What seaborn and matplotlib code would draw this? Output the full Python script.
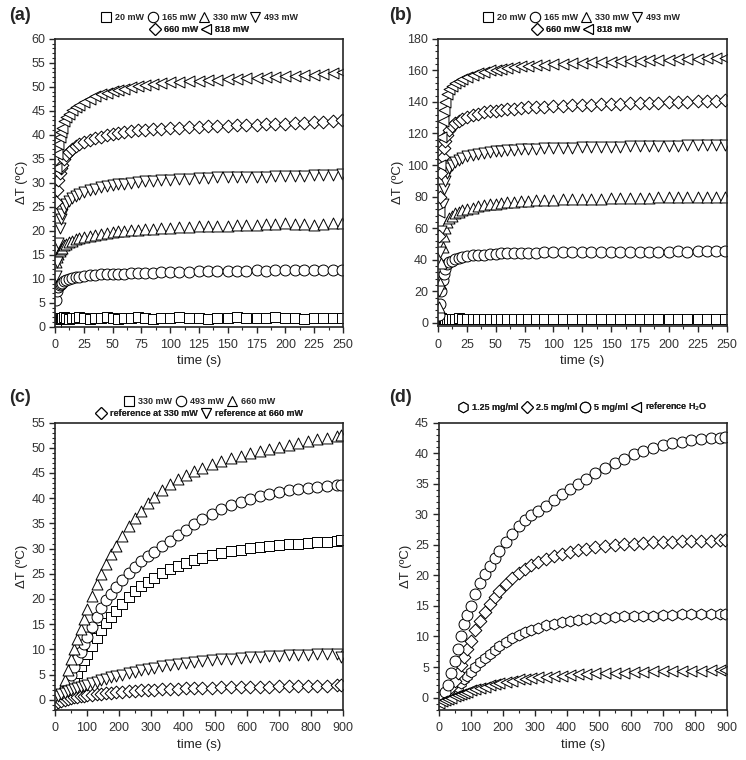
import numpy as np
import pandas as pd
import seaborn as sns
import matplotlib
matplotlib.use("Agg")
import matplotlib.pyplot as plt
from matplotlib.lines import Line2D
from matplotlib.ticker import MultipleLocator, AutoMinorLocator

# ---------------- data ----------------
# panels (a) and (b): 0-250 s
t_ab = [1, 2, 3, 4, 5, 6, 8, 10, 12, 15, 18, 21, 25, 30, 35, 40, 45, 50, 55, 60,
        66, 72, 78, 85, 92, 100, 108, 116, 125, 133, 141, 150, 158, 166, 175,
        183, 191, 200, 208, 216, 225, 233, 241, 249]

a_20 = [0.8, 1.6, 1.8, 1.9, 1.7, 1.8, 2.0, 1.8, 1.7, 1.9, 1.8, 2.0, 1.8, 1.7, 1.9,
        1.8, 2.0, 1.9, 1.7, 1.8, 1.9, 2.0, 1.8, 1.7, 1.9, 1.8, 2.0, 1.9, 1.8, 1.7,
        1.9, 1.8, 2.0, 1.9, 1.8, 1.9, 2.0, 1.8, 1.9, 1.7, 1.8, 1.9, 1.8, 1.9]
a_165 = [5.5, 7.5, 8.3, 8.8, 9.0, 9.2, 9.5, 9.7, 9.9, 10.1, 10.3, 10.4, 10.5, 10.7,
         10.8, 10.9, 11.0, 11.0, 11.1, 11.1, 11.2, 11.2, 11.3, 11.3, 11.4, 11.4,
         11.5, 11.5, 11.6, 11.6, 11.7, 11.6, 11.7, 11.7, 11.8, 11.7, 11.8, 11.9,
         11.8, 11.9, 11.8, 11.9, 11.8, 11.9]
a_330 = [13.5, 14.5, 15.2, 15.8, 16.2, 16.5, 17.0, 17.3, 17.6, 17.9, 18.2, 18.4,
         18.7, 19.0, 19.2, 19.4, 19.6, 19.8, 19.9, 20.0, 20.1, 20.2, 20.3, 20.4,
         20.5, 20.6, 20.7, 20.8, 20.9, 21.0, 21.1, 21.1, 21.2, 21.2, 21.3, 21.4,
         21.5, 21.6, 21.4, 21.5, 21.3, 21.5, 21.6, 21.7]
a_493 = [10.5, 13.5, 17.5, 20.5, 22.5, 23.5, 24.8, 25.6, 26.2, 26.8, 27.3, 27.7,
         28.1, 28.5, 28.8, 29.1, 29.3, 29.5, 29.7, 29.8, 30.0, 30.1, 30.3, 30.4,
         30.5, 30.6, 30.7, 30.8, 30.9, 31.0, 31.1, 31.1, 31.2, 31.2, 31.3, 31.3,
         31.4, 31.4, 31.5, 31.5, 31.6, 31.6, 31.7, 31.8]
a_660 = [26.0, 28.5, 30.5, 32.0, 33.0, 33.8, 35.0, 35.8, 36.4, 37.1, 37.6, 38.0,
         38.4, 38.9, 39.3, 39.6, 39.9, 40.1, 40.3, 40.5, 40.7, 40.9, 41.0, 41.2,
         41.3, 41.4, 41.5, 41.6, 41.7, 41.8, 41.9, 41.9, 42.0, 42.1, 42.1, 42.2,
         42.3, 42.3, 42.4, 42.5, 42.6, 42.7, 42.8, 43.0]
a_818 = [33.0, 36.0, 38.0, 39.5, 40.5, 41.5, 42.8, 43.7, 44.4, 45.2, 45.8, 46.3,
         46.9, 47.5, 48.0, 48.4, 48.8, 49.1, 49.4, 49.6, 49.9, 50.1, 50.3, 50.5,
         50.7, 50.9, 51.0, 51.2, 51.3, 51.4, 51.5, 51.6, 51.7, 51.8, 51.9, 52.0,
         52.1, 52.2, 52.3, 52.4, 52.5, 52.6, 52.8, 53.0]

b_20 = [4.0, 2.5, 2.8, 2.4, 2.6, 2.5, 2.7, 2.4, 2.6, 2.5, 2.8, 2.5, 2.6, 2.4, 2.7,
        2.5, 2.6, 2.4, 2.5, 2.7, 2.6, 2.5, 2.4, 2.6, 2.5, 2.7, 2.5, 2.4, 2.6, 2.5,
        2.6, 2.4, 2.5, 2.7, 2.5, 2.6, 2.4, 2.5, 2.6, 2.5, 2.7, 2.5, 2.4, 2.6]
b_165 = [5, 12, 20, 27, 31, 34, 37, 38.5, 39.5, 40.5, 41.2, 41.7, 42.2, 42.7, 43.0,
         43.3, 43.6, 43.8, 44.0, 44.1, 44.2, 44.3, 44.4, 44.5, 44.6, 44.7, 44.8,
         44.6, 44.8, 44.9, 45.0, 44.9, 45.1, 45.0, 45.2, 45.1, 45.0, 45.2, 45.3,
         45.1, 45.3, 45.4, 45.3, 45.5]
b_330 = [10, 25, 38, 48, 55, 60, 64, 66.5, 68, 69.5, 70.5, 71.3, 72, 73, 73.8, 74.5,
         75, 75.5, 76, 76.3, 76.7, 77, 77.3, 77.6, 77.8, 78, 78.2, 78.4, 78.5, 78.7,
         78.8, 79.0, 79.1, 79.2, 79.3, 79.4, 79.5, 79.6, 79.6, 79.7, 79.8, 79.8,
         79.9, 80.0]
b_493 = [20, 45, 58, 75, 85, 90, 95, 98, 100, 102, 103.5, 104.5, 105.5, 106.5,
         107.2, 107.8, 108.3, 108.7, 109.0, 109.3, 109.6, 109.9, 110.1, 110.3,
         110.5, 110.7, 110.9, 111.0, 111.2, 111.3, 111.4, 111.6, 111.7, 111.8,
         111.9, 112.0, 112.1, 112.2, 112.3, 112.4, 112.5, 112.7, 112.8, 113.0]
b_660 = [55, 80, 95, 105, 111, 115, 119, 122, 124.5, 126.5, 128, 129.3, 130.5,
         131.7, 132.6, 133.4, 134, 134.5, 135, 135.4, 135.8, 136.2, 136.5, 136.8,
         137, 137.3, 137.6, 137.8, 138, 138.2, 138.4, 138.6, 138.8, 139, 139.2,
         139.4, 139.6, 139.8, 140, 140.2, 140.4, 140.6, 140.8, 141]
b_818 = [70, 100, 118, 128, 135, 140, 145, 148, 150, 152, 153.5, 154.8, 156,
         157.3, 158.3, 159.2, 159.9, 160.5, 161, 161.5, 162, 162.5, 162.9, 163.3,
         163.6, 163.9, 164.2, 164.5, 164.8, 165.0, 165.3, 165.5, 165.7, 165.9,
         166.1, 166.3, 166.5, 166.7, 166.9, 167.1, 167.3, 167.5, 167.7, 168.0]

# panels (c) and (d): 0-900 s
t_cd = [0, 10, 20, 30, 40, 50, 60, 70, 80, 90, 100, 115, 130, 145, 160, 175, 190,
        210, 230, 250, 270, 290, 310, 335, 360, 385, 410, 435, 460, 490, 520, 550,
        580, 610, 640, 670, 700, 730, 760, 790, 820, 850, 880, 895]

c_330 = [0, 0, 0.5, 1, 2, 3, 4.2, 5.4, 6.6, 7.8, 9, 10.7, 12.3, 13.8, 15.2, 16.4,
         17.6, 19, 20.3, 21.5, 22.5, 23.4, 24.2, 25.1, 25.9, 26.6, 27.2, 27.7,
         28.2, 28.7, 29.1, 29.5, 29.8, 30.1, 30.3, 30.5, 30.7, 30.9, 31.0, 31.2,
         31.3, 31.4, 31.5, 31.6]
c_493 = [0, 0.3, 1, 2, 3.5, 5, 6.5, 8, 9.5, 11, 12.5, 14.5, 16.5, 18.2, 19.7, 21,
         22.3, 23.8, 25.2, 26.4, 27.5, 28.5, 29.4, 30.5, 31.5, 32.6, 33.7, 34.8,
         35.8, 36.8, 37.8, 38.6, 39.3, 39.9, 40.4, 40.9, 41.3, 41.6, 41.9, 42.1,
         42.3, 42.5, 42.6, 42.7]
c_660 = [0, 0.5, 2, 4, 6, 8, 10, 12, 14, 16, 18, 20.5, 23, 25, 27, 29, 30.5, 32.5,
         34.5, 36, 37.5, 39, 40.2, 41.6, 42.8, 43.8, 44.6, 45.3, 46, 46.7, 47.4,
         47.9, 48.4, 48.9, 49.4, 49.8, 50.2, 50.6, 51, 51.3, 51.7, 52, 52.3, 52.5]
c_ref330 = [-0.8, -0.5, -0.3, 0, 0.2, 0.4, 0.5, 0.6, 0.7, 0.8, 0.9, 1.0, 1.1, 1.2,
            1.3, 1.4, 1.5, 1.6, 1.7, 1.8, 1.9, 2.0, 2.0, 2.1, 2.2, 2.2, 2.3, 2.3,
            2.4, 2.4, 2.5, 2.5, 2.5, 2.6, 2.6, 2.6, 2.7, 2.7, 2.7, 2.8, 2.8, 2.8,
            2.9, 2.9]
c_ref660 = [0.5, 0.8, 1.1, 1.4, 1.7, 2.0, 2.2, 2.4, 2.6, 2.8, 3.0, 3.3, 3.6, 3.9,
            4.2, 4.5, 4.7, 5.0, 5.3, 5.6, 5.9, 6.1, 6.3, 6.6, 6.8, 7.0, 7.2, 7.4,
            7.6, 7.8, 8.0, 8.1, 8.3, 8.4, 8.5, 8.6, 8.7, 8.8, 8.9, 8.9, 9.0, 9.0,
            9.0, 8.5]

d_125 = [-0.5, -0.3, 0, 0.3, 0.7, 1.2, 1.8, 2.4, 3.0, 3.6, 4.2, 5.0, 5.8, 6.5,
         7.2, 7.8, 8.4, 9.1, 9.7, 10.2, 10.7, 11.1, 11.4, 11.8, 12.1, 12.3, 12.5,
         12.7, 12.8, 13.0, 13.1, 13.2, 13.3, 13.3, 13.4, 13.4, 13.5, 13.5, 13.6,
         13.6, 13.6, 13.7, 13.7, 13.7]
d_25 = [0, 0.2, 0.5, 1, 1.8, 2.8, 4, 5.3, 6.7, 8, 9.3, 11, 12.6, 14, 15.3, 16.4,
        17.4, 18.6, 19.6, 20.4, 21.1, 21.7, 22.2, 22.7, 23.1, 23.5, 23.8, 24.1,
        24.3, 24.6, 24.8, 25.0, 25.1, 25.2, 25.3, 25.4, 25.5, 25.5, 25.6, 25.6,
        25.7, 25.7, 25.8, 25.8]
d_5 = [0, 0.3, 1, 2, 4, 6, 8, 10, 12, 13.5, 15, 17, 18.8, 20.3, 21.6, 22.8, 24,
       25.5, 26.8, 28, 29, 29.8, 30.5, 31.4, 32.3, 33.3, 34.2, 35, 35.8, 36.7,
       37.6, 38.4, 39.1, 39.8, 40.4, 40.9, 41.3, 41.7, 41.9, 42.1, 42.3, 42.4,
       42.5, 42.6]
d_ref = [-0.8, -0.6, -0.4, -0.2, 0, 0.2, 0.4, 0.6, 0.8, 1.0, 1.2, 1.4, 1.6, 1.8,
         2.0, 2.2, 2.4, 2.6, 2.8, 3.0, 3.1, 3.2, 3.3, 3.4, 3.5, 3.6, 3.7, 3.8, 3.9,
         4.0, 4.0, 4.1, 4.1, 4.2, 4.2, 4.3, 4.3, 4.3, 4.4, 4.4, 4.4, 4.5, 4.5, 4.5]

labels_ab = ["20 mW", "165 mW", "330 mW", "493 mW", "660 mW", "818 mW"]
markers_ab = ["s", "o", "^", "v", "D", "<"]
labels_c = ["330 mW", "493 mW", "660 mW", "reference at 330 mW", "reference at 660 mW"]
markers_c = ["s", "o", "^", "D", "v"]
labels_d = ["1.25 mg/ml", "2.5 mg/ml", "5 mg/ml", "reference H$_2$O"]
markers_d = ["h", "D", "o", "<"]

sns.set_style("ticks")
plt.rcParams["font.family"] = ["Liberation Sans", "DejaVu Sans"]

fig = plt.figure(figsize=(7.46, 7.6), dpi=100)
ax_a = fig.add_axes([0.0737, 0.570, 0.386, 0.379])
ax_b = fig.add_axes([0.587, 0.571, 0.387, 0.378])
ax_c = fig.add_axes([0.0737, 0.066, 0.386, 0.378])
ax_d = fig.add_axes([0.588, 0.066, 0.386, 0.378])


def draw(ax, t, series, markers):
    for v, m in zip(series, markers):
        sns.scatterplot(x=t, y=v, marker=m, ax=ax, color="white",
                        edgecolor="black", linewidth=0.7,
                        s=42 if m == "D" else 62)


def style_axis(ax, xlim, ylim, xmaj, ymaj):
    ax.set_xlim(*xlim)
    ax.set_ylim(*ylim)
    ax.xaxis.set_major_locator(MultipleLocator(xmaj))
    ax.yaxis.set_major_locator(MultipleLocator(ymaj))
    ax.xaxis.set_minor_locator(AutoMinorLocator(2))
    ax.yaxis.set_minor_locator(AutoMinorLocator(5))
    ax.tick_params(which="major", direction="out", length=4, width=1,
                   labelsize=9, labelcolor="#333333", pad=3)
    ax.tick_params(axis="x", which="major", pad=5)
    ax.tick_params(which="minor", direction="out", length=2, width=0.8)
    for sp in ax.spines.values():
        sp.set_linewidth(1.2)
        sp.set_visible(True)
    ax.set_xlabel("time (s)", fontsize=9.5, color="#222222", labelpad=3)
    ax.set_ylabel("ΔT (ºC)", fontsize=9.5, color="#222222", labelpad=2)


def legend_rows(ax, rows, ys, xc):
    for items, y in zip(rows, ys):
        handles = [Line2D([], [], marker=m, ls="", mfc="white", mec="black",
                          mew=0.8, ms=6 if m == "D" else 7.5) for m, _ in items]
        leg = ax.legend(handles, [l for _, l in items], ncol=len(items),
                        loc="center", bbox_to_anchor=(xc, y),
                        bbox_transform=fig.transFigure, frameon=False,
                        prop={"size": 6.5, "weight": "bold"},
                        handletextpad=0.5, columnspacing=0.4, handlelength=1.0,
                        borderpad=0)
        ax.add_artist(leg)


draw(ax_a, t_ab, [a_20, a_165, a_330, a_493, a_660, a_818], markers_ab)
draw(ax_b, t_ab, [b_20, b_165, b_330, b_493, b_660, b_818], markers_ab)
draw(ax_c, t_cd, [c_330, c_493, c_660, c_ref330, c_ref660], markers_c)
draw(ax_d, t_cd, [d_125, d_25, d_5, d_ref], markers_d)

style_axis(ax_a, (0, 250), (0, 60), 25, 5)
style_axis(ax_b, (0, 250), (-2, 180), 25, 20)
style_axis(ax_c, (0, 900), (-2, 55), 100, 5)
style_axis(ax_d, (0, 900), (-2, 45), 100, 5)

pairs_ab = list(zip(markers_ab, labels_ab))
pairs_c = list(zip(markers_c, labels_c))
pairs_d = list(zip(markers_d, labels_d))
legend_rows(ax_a, [pairs_ab[:4], pairs_ab[4:]], [1 - 18 / 760, 1 - 30 / 760], 200 / 746)
legend_rows(ax_b, [pairs_ab[:4], pairs_ab[4:]], [1 - 18 / 760, 1 - 30 / 760], 582 / 746)
legend_rows(ax_c, [pairs_c[:3], pairs_c[3:]], [1 - 402 / 760, 1 - 414 / 760], 200 / 746)
legend_rows(ax_d, [pairs_d], [1 - 407 / 760], 583 / 746)

for lab, x, y in [("(a)", 20, 16), ("(b)", 400, 16), ("(c)", 20, 398), ("(d)", 400, 398)]:
    fig.text(x / 746, 1 - y / 760, lab, fontsize=13, fontweight="bold",
             ha="center", va="center")

fig.savefig("out.png", dpi=100)
